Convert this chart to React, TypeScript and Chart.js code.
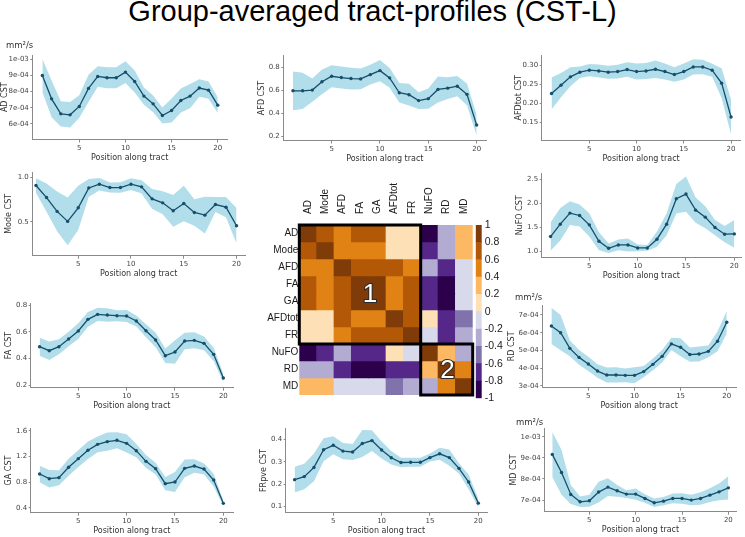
import React, { useEffect, useRef } from "react";
import { Chart, registerables } from "chart.js";

Chart.register(...registerables);

// ---------------- data ----------------
const positions = [1, 2, 3, 4, 5, 6, 7, 8, 9, 10, 11, 12, 13, 14, 15, 16, 17, 18, 19, 20];

const adMean = [9.0e-4, 7.55e-4, 6.62e-4, 6.56e-4, 7.08e-4, 8.2e-4, 8.94e-4, 8.86e-4, 8.86e-4, 9.21e-4, 8.63e-4, 7.72e-4, 7.24e-4, 6.52e-4, 6.83e-4, 7.45e-4, 7.72e-4, 8.22e-4, 8.09e-4, 7.16e-4];
const adSd = [1.02e-4, 1.14e-4, 0.78e-4, 0.79e-4, 0.7e-4, 0.85e-4, 0.64e-4, 0.65e-4, 0.65e-4, 0.67e-4, 0.68e-4, 0.54e-4, 0.52e-4, 0.5e-4, 0.75e-4, 0.75e-4, 0.75e-4, 0.54e-4, 0.54e-4, 0.49e-4];

const afdMean = [0.594, 0.594, 0.6, 0.672, 0.72, 0.709, 0.7, 0.697, 0.734, 0.769, 0.706, 0.577, 0.56, 0.509, 0.526, 0.606, 0.617, 0.634, 0.563, 0.297];
const afdSd = [0.168, 0.157, 0.1, 0.107, 0.095, 0.095, 0.094, 0.09, 0.085, 0.093, 0.085, 0.085, 0.094, 0.072, 0.088, 0.113, 0.095, 0.088, 0.095, 0.09];

const afdtotMean = [0.2258, 0.2476, 0.2695, 0.2817, 0.287, 0.285, 0.2817, 0.2834, 0.2887, 0.2834, 0.285, 0.2895, 0.2834, 0.2756, 0.2834, 0.2956, 0.2956, 0.287, 0.2529, 0.1639];
const afdtotSd = [0.042, 0.032, 0.025, 0.015, 0.016, 0.017, 0.017, 0.018, 0.019, 0.021, 0.021, 0.023, 0.021, 0.019, 0.021, 0.02, 0.019, 0.017, 0.039, 0.046];

const modeMean = [0.91, 0.774, 0.617, 0.504, 0.658, 0.883, 0.925, 0.887, 0.887, 0.925, 0.895, 0.759, 0.714, 0.624, 0.707, 0.605, 0.575, 0.695, 0.665, 0.455];
const modeSd = [0.081, 0.16, 0.225, 0.27, 0.25, 0.1, 0.07, 0.057, 0.06, 0.066, 0.075, 0.113, 0.13, 0.18, 0.2, 0.15, 0.207, 0.085, 0.115, 0.2];

const nufoMean = [1.309, 1.568, 1.8, 1.75, 1.554, 1.21, 1.063, 1.133, 1.133, 1.07, 1.07, 1.253, 1.568, 2.1, 2.199, 1.862, 1.715, 1.498, 1.358, 1.365];
const nufoSd = [0.295, 0.34, 0.25, 0.23, 0.245, 0.19, 0.1, 0.113, 0.135, 0.07, 0.06, 0.16, 0.23, 0.31, 0.37, 0.263, 0.23, 0.16, 0.17, 0.29];

const faMean = [0.4875, 0.4575, 0.4875, 0.545, 0.605, 0.6925, 0.73, 0.725, 0.72, 0.7175, 0.68, 0.6075, 0.5375, 0.42, 0.4475, 0.53, 0.535, 0.5125, 0.43, 0.2525];
const faSd = [0.068, 0.069, 0.056, 0.054, 0.059, 0.056, 0.05, 0.05, 0.041, 0.045, 0.041, 0.049, 0.054, 0.054, 0.0875, 0.0625, 0.06, 0.052, 0.05, 0.031];

const rdMean = [6.38e-4, 6.0e-4, 5.12e-4, 4.61e-4, 4.24e-4, 3.84e-4, 3.62e-4, 3.62e-4, 3.6e-4, 3.6e-4, 3.81e-4, 4.22e-4, 4.67e-4, 5.37e-4, 5.18e-4, 4.77e-4, 4.8e-4, 4.95e-4, 5.52e-4, 6.59e-4];
const rdSd = [1.02e-4, 0.99e-4, 0.44e-4, 0.42e-4, 0.4e-4, 0.38e-4, 0.42e-4, 0.43e-4, 0.39e-4, 0.45e-4, 0.32e-4, 0.33e-4, 0.35e-4, 0.35e-4, 0.51e-4, 0.4e-4, 0.42e-4, 0.33e-4, 0.56e-4, 0.63e-4];

const gaMean = [0.927, 0.854, 0.87, 1.032, 1.167, 1.298, 1.391, 1.433, 1.454, 1.407, 1.292, 1.125, 1.011, 0.776, 0.802, 1.016, 1.052, 1.005, 0.833, 0.468];
const gaSd = [0.13, 0.136, 0.117, 0.133, 0.13, 0.136, 0.123, 0.144, 0.125, 0.143, 0.104, 0.1, 0.091, 0.104, 0.156, 0.138, 0.104, 0.086, 0.1, 0.04];

const frpveMean = [0.2204, 0.234, 0.275, 0.354, 0.374, 0.348, 0.344, 0.382, 0.395, 0.353, 0.318, 0.297, 0.298, 0.298, 0.319, 0.336, 0.319, 0.271, 0.21, 0.1154];
const frpveSd = [0.058, 0.057, 0.062, 0.051, 0.04, 0.036, 0.036, 0.06, 0.046, 0.038, 0.03, 0.021, 0.02, 0.02, 0.018, 0.027, 0.036, 0.023, 0.033, 0.02];

const mdMean = [9.163e-4, 8.31e-4, 7.267e-4, 6.92e-4, 6.967e-4, 7.38e-4, 7.615e-4, 7.44e-4, 7.283e-4, 7.283e-4, 7.077e-4, 6.872e-4, 6.95e-4, 7.077e-4, 7.077e-4, 7.0e-4, 7.077e-4, 7.235e-4, 7.39e-4, 7.58e-4];
const mdSd = [1.07e-4, 1.06e-4, 0.45e-4, 0.25e-4, 0.28e-4, 0.49e-4, 0.42e-4, 0.28e-4, 0.18e-4, 0.27e-4, 0.2e-4, 0.2e-4, 0.2e-4, 0.23e-4, 0.25e-4, 0.25e-4, 0.3e-4, 0.33e-4, 0.4e-4, 0.55e-4];

// correlation matrix (rows / columns in the order of heatNames)
const heatNames = ["AD", "Mode", "AFD", "FA", "GA", "AFDtot", "FR", "NuFO", "RD", "MD"];
const corrAD = [1.0, 0.7, 0.5, 0.7, 0.7, 0.1, 0.1, -0.9, -0.3, 0.3];
const corrMode = [0.7, 1.0, 0.5, 0.5, 0.5, 0.1, 0.1, -0.7, -0.3, 0.3];
const corrAFD = [0.5, 0.5, 1.0, 0.7, 0.7, 0.7, 0.5, -0.3, -0.7, -0.1];
const corrFA = [0.7, 0.5, 0.7, 1.0, 0.9, 0.5, 0.7, -0.7, -0.9, -0.1];
const corrGA = [0.7, 0.5, 0.7, 0.9, 1.0, 0.5, 0.7, -0.7, -0.9, -0.1];
const corrAFDtot = [0.1, 0.1, 0.7, 0.5, 0.5, 1.0, 0.7, 0.1, -0.7, -0.5];
const corrFR = [0.1, 0.1, 0.5, 0.7, 0.7, 0.7, 1.0, -0.1, -0.7, -0.3];
const corrNuFO = [-0.9, -0.7, -0.3, -0.7, -0.7, 0.1, -0.1, 1.0, 0.3, -0.3];
const corrRD = [-0.3, -0.3, -0.7, -0.9, -0.9, -0.7, -0.7, 0.3, 1.0, 0.5];
const corrMD = [0.3, 0.3, -0.1, -0.1, -0.1, -0.5, -0.3, -0.3, 0.5, 1.0];

const clusterStart = [0, 7];
const clusterEnd = [7, 10];
const clusterLabels = ["1", "2"];
const clusterLabelAt = [4.08, 8.55];

const colorbarEdges = [-1, -0.8, -0.6, -0.4, -0.2, 0, 0.2, 0.4, 0.6, 0.8, 1];
const puOr = ["#2d004b", "#542788", "#8073ac", "#b2abd2", "#d8daeb", "#fee0b6", "#fdb863", "#e08214", "#b35806", "#7f3b08"];

// ---------------- styles ----------------
const LINE_COLOR = "#154f6b";
const BAND_COLOR = "rgb(178,221,235)";
const AXIS_COLOR = "#8a8a8a";
const LABEL_COLOR = "#444";
const TICK_FONT = { family: "DejaVu Sans", size: 7 };
const TITLE_FONT = { family: "DejaVu Sans", size: 8 };
const HEAT_FONT = { family: "Liberation Sans", size: 10 };

const sciFmt = (v: number) => {
  const e = Math.floor(Math.log10(v) + 1e-9);
  const m = Math.round(v / Math.pow(10, e));
  return m + "e-" + String(-e).padStart(2, "0");
};
const fix1 = (v: number) => v.toFixed(1);
const fix2 = (v: number) => v.toFixed(2);

type PanelSpec = {
  ytitle: string; mean: number[]; sd: number[];
  ymin: number; ymax: number; ystep: number; fmt: (v: number) => string;
  xmin: number; xmax: number; area: number[]; titleCx: number;
};

const panels: PanelSpec[] = [
  { ytitle: "AD CST", mean: adMean, sd: adSd, ymin: 5.03e-4, ymax: 1.027e-3, ystep: 1e-4, fmt: sciFmt, xmin: -0.09, xmax: 21.0, area: [32.3, 55, 227, 139.5], titleCx: 4.5 },
  { ytitle: "AFD CST", mean: afdMean, sd: afdSd, ymin: 0.163, ymax: 0.9, ystep: 0.2, fmt: fix1, xmin: 0, xmax: 21, area: [283.3, 55.5, 486.3, 140.5], titleCx: 261.5 },
  { ytitle: "AFDtot CST", mean: afdtotMean, sd: afdtotSd, ymin: 0.102, ymax: 0.327, ystep: 0.05, fmt: fix2, xmin: -0.04, xmax: 21, area: [541.7, 55, 740.5, 140.5], titleCx: 519 },
  { ytitle: "Mode CST", mean: modeMean, sd: modeSd, ymin: 0.116, ymax: 1.063, ystep: 0.5, fmt: fix1, xmin: 0.65, xmax: 20.8, area: [32.3, 172, 245, 255.7], titleCx: 9 },
  { ytitle: "NuFO CST", mean: nufoMean, sd: nufoSd, ymin: 0.866, ymax: 2.64, ystep: 0.5, fmt: fix1, xmin: 0.08, xmax: 20.69, area: [541.7, 173, 741, 257.7], titleCx: 519.8 },
  { ytitle: "FA CST", mean: faMean, sd: faSd, ymin: 0.18, ymax: 0.813, ystep: 0.2, fmt: fix1, xmin: 0.08, xmax: 21.0, area: [30.7, 303.3, 233, 387.7], titleCx: 8.5 },
  { ytitle: "RD CST", mean: rdMean, sd: rdSd, ymin: 2.904e-4, ymax: 7.56e-4, ystep: 1e-4, fmt: sciFmt, xmin: 0.015, xmax: 21.0, area: [542.3, 305, 736, 387.7], titleCx: 511.5 },
  { ytitle: "GA CST", mean: gaMean, sd: gaSd, ymin: 0.322, ymax: 1.642, ystep: 0.4, fmt: fix1, xmin: 0.08, xmax: 21.0, area: [30.7, 428.3, 233, 512.7], titleCx: 8.5 },
  { ytitle: "FRpve CST", mean: frpveMean, sd: frpveSd, ymin: 0.0726, ymax: 0.45, ystep: 0.1, fmt: fix1, xmin: 0.08, xmax: 20.93, area: [285.7, 428.3, 487.3, 512.7], titleCx: 264 },
  { ytitle: "MD CST", mean: mdMean, sd: mdSd, ymin: 6.45e-4, ymax: 1.04e-3, ystep: 1e-4, fmt: sciFmt, xmin: 0.14, xmax: 20.9, area: [544.3, 428.3, 736.7, 511.7], titleCx: 514 },
];

function LinePanel({ p }: { p: PanelSpec }) {
  const ref = useRef<HTMLCanvasElement>(null);
  const [aL, aT, aR, aB] = p.area;
  const lh = TITLE_FONT.size * 1.2;
  const L = Math.max(0, Math.floor(p.titleCx - lh / 2));
  const T = Math.floor(aT - 8);
  const R = Math.min(745, Math.ceil(aR + 4));
  const B = Math.min(537, Math.ceil(aB + 24));
  const W = R - L;
  const H = B - T;
  useEffect(() => {
    const padLeft = p.titleCx - lh / 2 - L;
    const yW = aL - L - padLeft;
    const xH = 18.5 + lh / 2;
    const padBottom = Math.max(0, B - aB - xH);
    const lower = positions.map((x, i) => ({ x, y: p.mean[i] - p.sd[i] }));
    const upper = positions.map((x, i) => ({ x, y: p.mean[i] + p.sd[i] }));
    const mid = positions.map((x, i) => ({ x, y: p.mean[i] }));
    const chart = new Chart(ref.current as HTMLCanvasElement, {
      type: "line",
      data: {
        datasets: [
          { data: mid, borderColor: LINE_COLOR, borderWidth: 1.3, pointRadius: 1.7, pointBackgroundColor: LINE_COLOR, pointBorderWidth: 0, fill: false },
          { data: lower, borderWidth: 0, borderColor: "rgba(0,0,0,0)", pointRadius: 0, fill: false, backgroundColor: BAND_COLOR },
          { data: upper, borderWidth: 0, borderColor: "rgba(0,0,0,0)", pointRadius: 0, fill: "-1", backgroundColor: BAND_COLOR },
        ],
      } as any,
      options: {
        animation: false,
        responsive: false,
        events: [],
        layout: { padding: { left: padLeft, top: aT - T, right: R - aR, bottom: padBottom } },
        plugins: { legend: { display: false }, tooltip: { enabled: false } },
        scales: {
          x: {
            type: "linear", min: p.xmin, max: p.xmax,
            ticks: { stepSize: 5, includeBounds: false, autoSkip: false, maxRotation: 0, padding: 1, font: TICK_FONT, color: LABEL_COLOR, callback: (v: any) => (v <= 0 ? null : String(v)) },
            grid: { display: true, drawOnChartArea: false, drawTicks: true, tickLength: 3, color: AXIS_COLOR },
            border: { display: true, color: AXIS_COLOR, width: 1 },
            title: { display: true, text: "Position along tract", font: TITLE_FONT, color: "#333", padding: 0 },
            afterFit: (s: any) => { s.height = xH; },
          },
          y: {
            type: "linear", min: p.ymin, max: p.ymax,
            ticks: { stepSize: p.ystep, includeBounds: false, autoSkip: false, padding: 1.5, font: TICK_FONT, color: LABEL_COLOR, callback: (v: any) => p.fmt(v) },
            grid: { display: true, drawOnChartArea: false, drawTicks: true, tickLength: 2, color: AXIS_COLOR },
            border: { display: true, color: AXIS_COLOR, width: 1 },
            title: { display: true, text: p.ytitle, font: TITLE_FONT, color: "#333", padding: 0 },
            afterFit: (s: any) => { s.width = yW; },
          },
        },
      } as any,
    });
    return () => chart.destroy();
  }, []);
  return <canvas ref={ref} width={W} height={H} style={{ position: "absolute", left: L, top: T, width: W, height: H }} />;
}

const colorFor = (v: number) => {
  const idx = Math.max(0, Math.min(9, Math.floor((v + 1) / 0.2 + 1e-9)));
  return puOr[idx];
};

function Heatmap() {
  const ref = useRef<HTMLCanvasElement>(null);
  const HL = 250, HT = 160, HR = 476, HB = 402;
  const area = [299.3, 225, 472.7, 398.3];
  useEffect(() => {
    const rows = [corrAD, corrMode, corrAFD, corrFA, corrGA, corrAFDtot, corrFR, corrNuFO, corrRD, corrMD];
    const datasets = rows.map((row, r) => ({
      label: heatNames[r],
      data: row.map(() => [r, r + 1]),
      backgroundColor: row.map((v) => colorFor(v)),
      borderWidth: 0,
      barPercentage: 1,
      categoryPercentage: 1,
      grouped: false,
    }));
    const clusterPlugin = {
      id: "clusters",
      afterDatasetsDraw(chart: any) {
        const { ctx } = chart;
        const x = chart.scales.x;
        const y = chart.scales.y;
        const half = (x.getPixelForValue(1) - x.getPixelForValue(0)) / 2;
        ctx.save();
        clusterStart.forEach((s, k) => {
          const e = clusterEnd[k];
          const x0 = x.getPixelForValue(s) - half;
          const x1 = x.getPixelForValue(e - 1) + half;
          const y0 = y.getPixelForValue(s);
          const y1 = y.getPixelForValue(e);
          ctx.lineWidth = 3;
          ctx.strokeStyle = "#000";
          ctx.strokeRect(x0, y0, x1 - x0, y1 - y0);
        });
        clusterLabels.forEach((lab, k) => {
          const at = clusterLabelAt[k];
          const cx = x.getPixelForValue(at - 0.5);
          const cy = y.getPixelForValue(at);
          ctx.font = '26px "Liberation Sans"';
          ctx.textAlign = "center";
          ctx.textBaseline = "middle";
          ctx.lineWidth = 2;
          ctx.strokeStyle = "#2a2a2a";
          ctx.strokeText(lab, cx, cy);
          ctx.fillStyle = "#ffffff";
          ctx.fillText(lab, cx, cy);
        });
        ctx.restore();
      },
    };
    const chart = new Chart(ref.current as HTMLCanvasElement, {
      type: "bar",
      data: { labels: heatNames, datasets } as any,
      options: {
        animation: false,
        responsive: false,
        events: [],
        layout: { padding: { left: 0, top: 0, right: HR - area[2], bottom: HB - area[3] } },
        plugins: { legend: { display: false }, tooltip: { enabled: false } },
        scales: {
          x: {
            type: "category", position: "top", offset: true,
            grid: { display: false, drawTicks: false }, border: { display: false },
            ticks: { minRotation: 90, maxRotation: 90, autoSkip: false, padding: 11, labelOffset: 12, font: HEAT_FONT, color: "#1a1a1a" },
            afterFit: (s: any) => { s.height = area[1] - HT; },
          },
          y: {
            type: "linear", min: 0, max: 10, reverse: true,
            afterBuildTicks: (s: any) => { s.ticks = heatNames.map((_, i) => ({ value: i + 0.5 })); },
            grid: { display: false, drawTicks: false }, border: { display: false },
            ticks: { autoSkip: false, padding: 1, font: HEAT_FONT, color: "#1a1a1a", callback: (_v: any, i: number) => heatNames[i] },
            afterFit: (s: any) => { s.width = area[0] - HL; },
          },
        },
      } as any,
      plugins: [clusterPlugin],
    });
    return () => chart.destroy();
  }, []);
  return <canvas ref={ref} width={HR - HL} height={HB - HT} style={{ position: "absolute", left: HL, top: HT, width: HR - HL, height: HB - HT }} />;
}

function Colorbar() {
  const ref = useRef<HTMLCanvasElement>(null);
  const CL = 470, CT = 215, CR = 512, CB = 410;
  const area = [475.7, 225, 481.7, 398.3];
  useEffect(() => {
    const datasets = puOr.map((c, i) => ({
      data: [[colorbarEdges[i], colorbarEdges[i + 1]]],
      backgroundColor: c,
      borderWidth: 0,
      barPercentage: 1,
      categoryPercentage: 1,
      grouped: false,
    }));
    const chart = new Chart(ref.current as HTMLCanvasElement, {
      type: "bar",
      data: { labels: ["r"], datasets } as any,
      options: {
        animation: false,
        responsive: false,
        events: [],
        layout: { padding: { left: area[0] - CL, top: area[1] - CT, right: 0, bottom: CB - area[3] } },
        plugins: { legend: { display: false }, tooltip: { enabled: false } },
        scales: {
          x: { display: false },
          y: {
            type: "linear", position: "right", min: -1, max: 1,
            ticks: { stepSize: 0.2, autoSkip: false, padding: 3, font: { family: "Liberation Sans", size: 10.5 }, color: "#1a1a1a",
              callback: (v: any) => { const r = Math.round(v * 10) / 10; return r === 0 ? "0" : String(r); } },
            grid: { display: false, drawTicks: false }, border: { display: false },
            afterFit: (s: any) => { s.width = CR - area[2]; },
          },
        },
      } as any,
    });
    return () => chart.destroy();
  }, []);
  return <canvas ref={ref} width={CR - CL} height={CB - CT} style={{ position: "absolute", left: CL, top: CT, width: CR - CL, height: CB - CT }} />;
}

const unitStyle = (left: number, top: number): React.CSSProperties => ({
  position: "absolute", left, top, fontFamily: "DejaVu Sans", fontSize: 8.5, lineHeight: "10px", color: "#333", whiteSpace: "nowrap",
});

export default function App() {
  return (
    <div style={{ position: "fixed", left: 0, top: 0, width: 745, height: 537, background: "#fff", overflow: "hidden" }}>
      <div style={{ position: "absolute", left: 0, top: -3.5, width: 745, textAlign: "center", fontFamily: "Liberation Sans", fontSize: 29, lineHeight: "29px", color: "#000", whiteSpace: "nowrap" }}>
        Group-averaged tract-profiles (CST-L)
      </div>
      {panels.map((p, i) => <LinePanel key={i} p={p} />)}
      <Heatmap />
      <Colorbar />
      <div style={unitStyle(6, 40)}>mm²/s</div>
      <div style={unitStyle(515, 292)}>mm²/s</div>
      <div style={unitStyle(516, 417)}>mm²/s</div>
    </div>
  );
}
